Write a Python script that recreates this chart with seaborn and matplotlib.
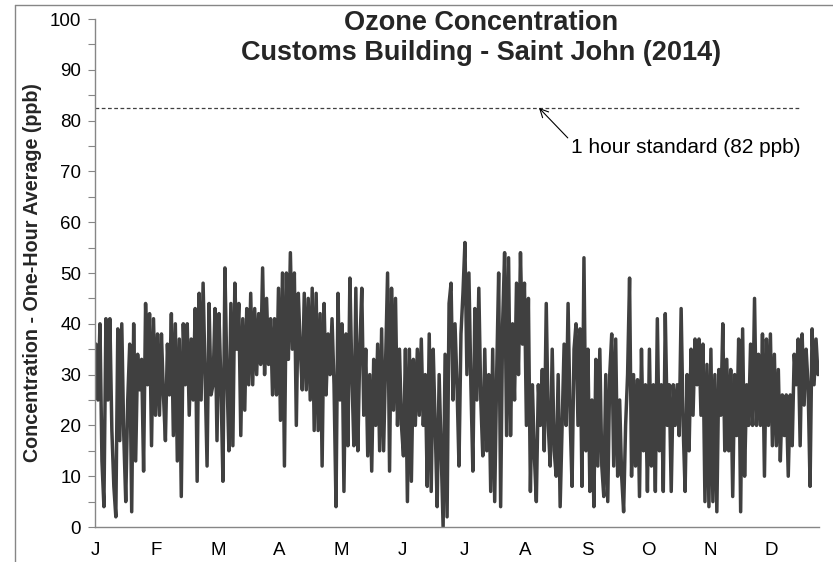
import numpy as np
import pandas as pd
import matplotlib
matplotlib.use("Agg")
import matplotlib.pyplot as plt
from matplotlib.lines import Line2D
from matplotlib.ticker import MultipleLocator
import seaborn as sns

# ---- data (daily alternating extremes, ppb) ----
jan = [36, 25, 40, 13, 4, 41, 25, 41, 19, 8, 2, 39, 17, 40, 18, 5, 25, 36, 3, 40, 13, 34, 27, 33, 11, 44, 28, 42, 16, 41, 22]
feb = [38, 22, 38, 26, 17, 36, 26, 42, 18, 40, 13, 37, 6, 40, 28, 40, 22, 37, 25, 43, 9, 46, 25, 48, 30, 12, 44, 26]
mar = [28, 43, 17, 42, 28, 9, 51, 30, 15, 44, 16, 48, 35, 44, 18, 41, 23, 43, 28, 46, 28, 43, 30, 42, 32, 51, 30, 45, 32, 41, 26]
apr = [41, 26, 47, 21, 50, 12, 50, 33, 54, 35, 50, 20, 46, 35, 27, 46, 27, 45, 25, 47, 19, 46, 19, 42, 12, 44, 26, 38, 30, 41]
may = [28, 4, 46, 25, 40, 7, 38, 16, 49, 30, 16, 47, 15, 35, 47, 22, 35, 14, 30, 11, 33, 20, 36, 15, 39, 15, 33, 50, 11, 47, 23]
jun = [45, 20, 35, 20, 14, 35, 5, 35, 9, 33, 20, 35, 22, 37, 20, 30, 8, 38, 7, 35, 20, 4, 30, 15, 0, 34, 2, 44, 48, 25]
jul = [40, 28, 12, 38, 46, 56, 30, 50, 28, 11, 43, 25, 47, 25, 14, 35, 15, 30, 7, 35, 5, 30, 50, 4, 40, 54, 18, 53, 18, 40, 25]
aug = [48, 30, 54, 36, 48, 20, 45, 7, 28, 14, 5, 28, 20, 31, 15, 44, 20, 12, 35, 15, 10, 30, 4, 20, 36, 20, 44, 22, 8, 35, 40]
sep = [20, 39, 8, 53, 15, 35, 7, 25, 4, 33, 12, 35, 12, 6, 30, 5, 30, 38, 12, 37, 10, 25, 10, 3, 20, 30, 49, 10, 30, 12]
oct_ = [29, 6, 35, 15, 28, 7, 35, 12, 28, 7, 41, 15, 28, 7, 42, 20, 28, 7, 28, 20, 28, 18, 43, 20, 7, 30, 15, 35, 22, 37, 28]
nov = [37, 22, 36, 5, 32, 4, 35, 5, 30, 3, 31, 22, 40, 15, 33, 15, 31, 6, 30, 18, 37, 3, 39, 10, 28, 20, 36, 20, 45, 20]
dec = [34, 20, 38, 10, 37, 20, 38, 16, 34, 16, 31, 13, 26, 18, 26, 10, 26, 16, 34, 28, 37, 16, 38, 24, 35, 28, 8, 39, 28, 37, 30]

month_labels = ["J", "F", "M", "A", "M", "J", "J", "A", "S", "O", "N", "D"]
standard = 82.5
standard_label = "1 hour standard (82 ppb)"
title = "Ozone Concentration\nCustoms Building - Saint John (2014)"
ylabel = "Concentration - One-Hour Average (ppb)"

values = jan + feb + mar + apr + may + jun + jul + aug + sep + oct_ + nov + dec
hours = np.arange(len(values)) * 24 + 12
df = pd.DataFrame({"hour": hours, "ozone": values})

# ---- figure ----
sns.set_theme(style="white")
plt.rcParams["font.family"] = ["Liberation Sans", "DejaVu Sans"]

W, H = 833, 562
fig = plt.figure(figsize=(W / 100, H / 100), dpi=100)
ax = fig.add_axes([95 / W, 1 - 527 / H, (819 - 95) / W, (527 - 19) / H])

sns.lineplot(data=df, x="hour", y="ozone", ax=ax, color="#404040", linewidth=2.5)

ax.axhline(standard, xmin=0, xmax=0.975, color="#404040", linewidth=0.9,
           linestyle=(0, (3, 2)))

ax.annotate(standard_label, xy=(5372, standard), xytext=(5760, 74.8),
            textcoords="data", ha="left", va="center", fontsize=15,
            color="black",
            arrowprops=dict(arrowstyle="->", color="black", lw=0.8,
                            shrinkA=0, shrinkB=0, relpos=(0, 0.8)))

ax.set_xlim(0, 8760)
ax.set_ylim(0, 100)
ax.set_xticks(np.arange(12) * 744)
ax.set_xticklabels(month_labels)
ax.yaxis.set_major_locator(MultipleLocator(10))
ax.yaxis.set_minor_locator(MultipleLocator(5))
ax.tick_params(axis="x", length=0, pad=11, labelsize=13.5, colors="black")
ax.tick_params(axis="y", which="major", length=5, width=0.8, color="#868686",
               labelsize=13.5, labelcolor="black", pad=5, left=True)
ax.tick_params(axis="y", which="minor", length=5, width=0.8, color="#868686",
               left=True)
for s in ["top", "right"]:
    ax.spines[s].set_visible(False)
for s in ["left", "bottom"]:
    ax.spines[s].set_color("#868686")
    ax.spines[s].set_linewidth(1.0)

ax.set_xlabel("")
ax.set_ylabel(ylabel, fontsize=14.2, fontweight="bold")
ax.yaxis.set_label_coords(-0.073, 0.5)

fig.text(481 / W, 1 - 10 / H, title, ha="center", va="top", fontsize=19.5,
         fontweight="bold", linespacing=1.2)

# chart-area border (left and top edges visible)
fig.add_artist(Line2D([15 / W, 15 / W], [0, 1 - 5 / H], color="#868686", lw=1.0))
fig.add_artist(Line2D([15 / W, 1], [1 - 5 / H, 1 - 5 / H], color="#868686", lw=1.0))

fig.savefig("out.png", dpi=100)
